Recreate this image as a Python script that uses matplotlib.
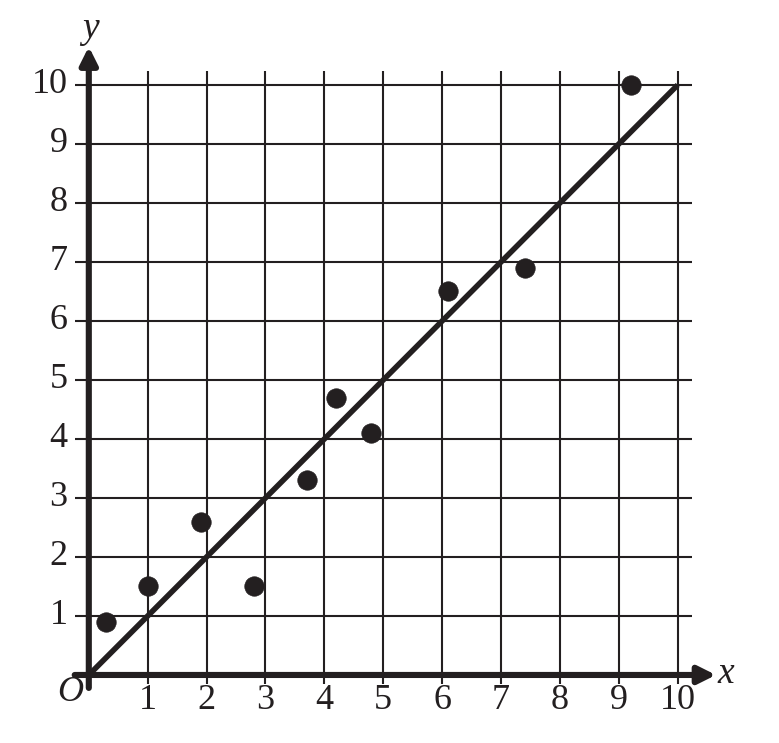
import matplotlib
matplotlib.use("Agg")
import matplotlib.pyplot as plt

# Data
x_vals = [0.3, 1.0, 1.9, 2.8, 3.7, 4.2, 4.8, 6.1, 7.4, 9.2]
y_vals = [0.9, 1.5, 2.6, 1.5, 3.3, 4.7, 4.1, 6.5, 6.9, 10.0]
fit_x = [0, 10]
fit_y = [0, 10]
x_ticks = [1, 2, 3, 4, 5, 6, 7, 8, 9, 10]
y_ticks = [1, 2, 3, 4, 5, 6, 7, 8, 9, 10]

ink = "#231f20"
serif = ["Liberation Serif", "DejaVu Serif"]

fig = plt.figure(figsize=(7.79, 7.43), dpi=100)
ax = fig.add_axes([0, 0, 1, 1])
ax.set_xlim(-1.508, 11.72)
ax.set_ylim(-1.153, 11.44)
ax.axis("off")

# grid
ax.vlines(x_ticks, -0.15, 10.24, color=ink, lw=1.5, zorder=1)
ax.hlines(y_ticks, -0.24, 10.25, color=ink, lw=1.5, zorder=1)

# axes with arrows
ax.annotate("", xy=(10.65, 0), xytext=(-0.24, 0),
            arrowprops=dict(arrowstyle="-|>", lw=4.4, color=ink,
                            mutation_scale=26, shrinkA=0, shrinkB=0), zorder=3)
ax.annotate("", xy=(0, 10.65), xytext=(0, -0.22),
            arrowprops=dict(arrowstyle="-|>", lw=4.4, color=ink,
                            mutation_scale=26, shrinkA=0, shrinkB=0), zorder=3)

# fit line
ax.plot(fit_x, fit_y, color=ink, lw=4.0, solid_capstyle="butt", zorder=4)

# points
ax.plot(x_vals, y_vals, "o", color=ink, ms=14, mew=0.5, zorder=5)

# tick labels
for t in x_ticks:
    ax.text(t, -0.44, str(t), ha="center", va="center", fontsize=26,
            family=serif, color=ink)
for t in y_ticks:
    ax.text(-0.36, t, str(t), ha="right", va="center", fontsize=26,
            family=serif, color=ink)

ax.text(-0.32, -0.3, "O", ha="center", va="center", fontsize=26,
        family=serif, style="italic", color=ink)
ax.text(10.82, 0.02, "x", ha="center", va="center", fontsize=27,
        family=serif, style="italic", color=ink)
ax.text(0.03, 10.95, "y", ha="center", va="center", fontsize=27,
        family=serif, style="italic", color=ink)

fig.savefig("out.png", dpi=100)
